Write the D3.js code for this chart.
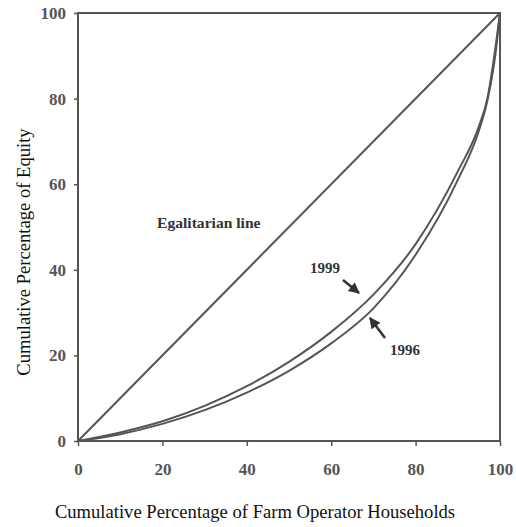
<!DOCTYPE html>
<html>
<head>
<meta charset="utf-8">
<script src="https://cdn.jsdelivr.net/npm/d3@7"></script>
<style>
  body { margin: 0; background: #fff; }
  svg { display: block; }
</style>
</head>
<body>
<div id="graph"></div>
<script>
// data
const ticks = [0, 20, 40, 60, 80, 100];
const households = [0, 10, 20, 30, 40, 50, 60, 70, 80, 90, 95, 97, 99, 100];
const equity1999 = [0, 2.0, 4.6, 8.2, 12.8, 18.5, 25.5, 34.2, 46, 63, 73.5, 80, 92.5, 100];
const equity1996 = [0, 1.6, 4.0, 7.2, 11.3, 16.4, 22.8, 31.0, 43.5, 61, 72.5, 79.5, 91, 100];
const egalitarian = [0, 100];

const width = 516;
const height = 527;
const margin = { left: 78, right: 16, top: 13, bottom: 86 };
const ink = "#555";

const svg = d3.select('#graph')
  .append('svg')
  .attr('width', width)
  .attr('height', height);

const xScale = d3.scaleLinear()
  .domain([0, 100])
  .range([margin.left, width - margin.right]);

const yScale = d3.scaleLinear()
  .domain([0, 100])
  .range([height - margin.bottom, margin.top]);

const serif = "'Liberation Serif', 'Times New Roman', serif";

// frame
svg.append('rect')
  .attr('x', xScale(0))
  .attr('y', yScale(100))
  .attr('width', xScale(100) - xScale(0))
  .attr('height', yScale(0) - yScale(100))
  .attr('fill', 'none')
  .attr('stroke', ink)
  .attr('stroke-width', 2);

// x axis
const xAxis = svg.append('g')
  .attr('transform', `translate(0, ${yScale(0)})`)
  .call(d3.axisBottom(xScale).tickValues(ticks).tickSize(5).tickPadding(17));
// y axis
const yAxis = svg.append('g')
  .attr('transform', `translate(${xScale(0)}, 0)`)
  .call(d3.axisLeft(yScale).tickValues(ticks).tickSize(4).tickPadding(8));

[xAxis, yAxis].forEach(ax => {
  ax.select('.domain').remove();
  ax.selectAll('line').attr('stroke', ink).attr('stroke-width', 1.5);
  ax.selectAll('text')
    .attr('fill', ink)
    .style('font-family', serif)
    .style('font-weight', 'bold')
    .style('font-size', '17px');
});

// axis titles
svg.append('text')
  .attr('text-anchor', 'middle')
  .attr('x', 255)
  .attr('y', 518)
  .style('font-family', serif)
  .style('font-size', '18.6px')
  .attr('fill', '#111')
  .text('Cumulative Percentage of Farm Operator Households');

svg.append('text')
  .attr('text-anchor', 'middle')
  .attr('transform', 'translate(30, 252) rotate(-90)')
  .style('font-family', serif)
  .style('font-size', '18.6px')
  .attr('fill', '#111')
  .text('Cumulative Percentage of Equity');

// lines
const line = d3.line()
  .x(d => xScale(d[0]))
  .y(d => yScale(d[1]))
  .curve(d3.curveMonotoneX);

const series = [
  d3.zip(egalitarian, egalitarian),
  d3.zip(households, equity1999),
  d3.zip(households, equity1996)
];

svg.selectAll('.series')
  .data(series)
  .enter()
  .append('path')
  .attr('class', 'series')
  .attr('fill', 'none')
  .attr('stroke', ink)
  .attr('stroke-width', 2)
  .attr('d', line);

// labels
const labels = [
  { text: 'Egalitarian line', x: 157, y: 228, size: 15.6 },
  { text: '1999', x: 310, y: 273, size: 15 },
  { text: '1996', x: 390, y: 355, size: 15 }
];
svg.selectAll('.label')
  .data(labels)
  .enter()
  .append('text')
  .attr('class', 'label')
  .attr('x', d => d.x)
  .attr('y', d => d.y)
  .style('font-family', serif)
  .style('font-weight', 'bold')
  .style('font-size', d => d.size + 'px')
  .attr('fill', '#333')
  .text(d => d.text);

// arrows
svg.append('defs').append('marker')
  .attr('id', 'head')
  .attr('viewBox', '0 0 10 10')
  .attr('refX', 9)
  .attr('refY', 5)
  .attr('markerWidth', 4.5)
  .attr('markerHeight', 4.5)
  .attr('orient', 'auto')
  .append('path')
  .attr('d', 'M0,0L10,5L0,10z')
  .attr('fill', '#333');

const arrows = [
  { x1: 343, y1: 280, x2: 359, y2: 293 },
  { x1: 385, y1: 338, x2: 370, y2: 318 }
];
svg.selectAll('.arrow')
  .data(arrows)
  .enter()
  .append('line')
  .attr('class', 'arrow')
  .attr('x1', d => d.x1)
  .attr('y1', d => d.y1)
  .attr('x2', d => d.x2)
  .attr('y2', d => d.y2)
  .attr('stroke', '#333')
  .attr('stroke-width', 2.5)
  .attr('marker-end', 'url(#head)');
</script>
</body>
</html>
